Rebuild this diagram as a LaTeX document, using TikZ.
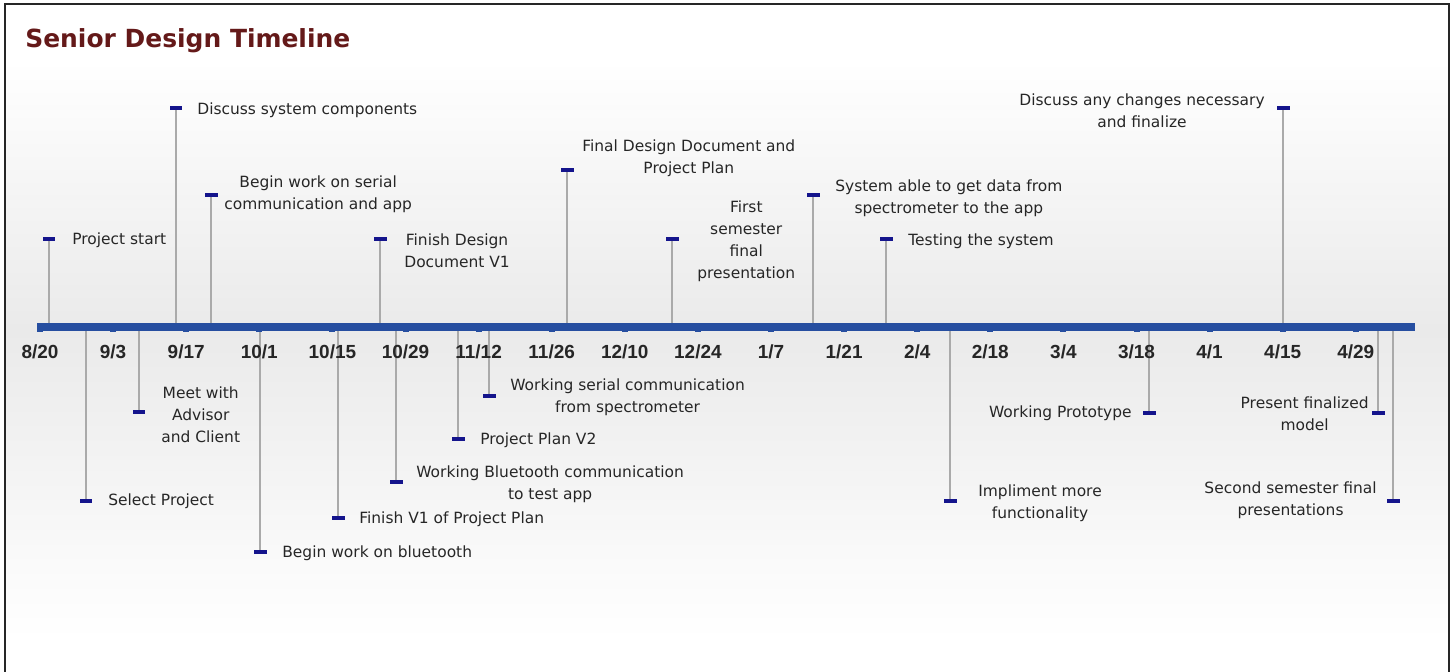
\documentclass[tikz,border=0pt]{standalone}
\usepackage{fontspec}
\setmainfont{DejaVu Sans}
\newfontfamily\datefont{Liberation Sans}
\usepackage{tikz}

\definecolor{titlered}{RGB}{100,25,25}
\definecolor{axisblue}{RGB}{38,78,160}
\definecolor{markblue}{RGB}{20,20,140}
\definecolor{stemgray}{RGB}{170,170,170}
\definecolor{bggray}{RGB}{234,234,234}

\tikzset{
  evmark/.style={fill=markblue, inner sep=0pt, minimum width=0.26cm, minimum height=0.075cm},
  stem/.style={draw=stemgray, line width=0.6pt},
  evtext/.style={font=\fontsize{8.8}{12.5}\selectfont, inner sep=0pt, align=center, text=black!85},
  datelbl/.style={font=\datefont\bfseries\fontsize{10.8}{13}\selectfont, text=black!85},
}

\begin{document}
\begin{tikzpicture}[x=0.02cm, y=-0.02cm]
      \useasboundingbox (0,0) rectangle (1455,672);
      \shade[top color=white, bottom color=bggray] (5,60) rectangle (1449,330);
      \shade[top color=bggray, bottom color=white] (5,330) rectangle (1449,640);
      \draw[gray!30!black, line width=1.2pt] (5,672) -- (5,4) -- (1449,4) -- (1449,672);
      \node[anchor=base west, font=\bfseries\fontsize{14.2}{16}\selectfont, text=titlered, inner sep=0pt] (title) at (25,48) {Senior Design Timeline};

      \coordinate (axl) at (37,327);
      \coordinate (axr) at (1415,327);

      % above the axis
      \node[evmark] (start) at (49,239) {};
      \draw[stem] (start) -- (start |- axl);
      \node[evtext, anchor=west] (startt) at (72,240) {Project start};

      \node[evmark] (discuss) at (176,108) {};
      \draw[stem] (discuss) -- (discuss |- axl);
      \node[evtext, anchor=west] (discusst) at (197,110) {Discuss system components};

      \node[evmark] (serial) at (211,195) {};
      \draw[stem] (serial) -- (serial |- axl);
      \node[evtext, anchor=west] (serialt) at (224,194) {Begin work on serial\\communication and app};

      \node[evmark] (fdone) at (380,239) {};
      \draw[stem] (fdone) -- (fdone |- axl);
      \node[evtext, anchor=west] (fdonet) at (404,251) {Finish Design\\Document V1};

      \node[evmark] (fdd) at (567,170) {};
      \draw[stem] (fdd) -- (fdd |- axl);
      \node[evtext, anchor=west] (fddt) at (582,158) {Final Design Document and\\Project Plan};

      \node[evmark] (firstsem) at (672,239) {};
      \draw[stem] (firstsem) -- (firstsem |- axl);
      \node[evtext, anchor=west] (firstsemt) at (697,241) {First\\semester\\final\\presentation};

      \node[evmark] (sysdata) at (813,195) {};
      \draw[stem] (sysdata) -- (sysdata |- axl);
      \node[evtext, anchor=west] (sysdatat) at (835,198) {System able to get data from\\spectrometer to the app};

      \node[evmark] (testing) at (886,239) {};
      \draw[stem] (testing) -- (testing |- axl);
      \node[evtext, anchor=west] (testingt) at (908,241) {Testing the system};

      \node[evmark] (changes) at (1283,108) {};
      \draw[stem] (changes) -- (changes |- axl);
      \node[evtext, anchor=east] (changest) at (1265,111) {Discuss any changes necessary\\and finalize};

      % below the axis
      \node[evmark] (select) at (86,501) {};
      \draw[stem] (select) -- (select |- axl);
      \node[evtext, anchor=west] (selectt) at (108,501) {Select Project};

      \node[evmark] (meet) at (139,412) {};
      \draw[stem] (meet) -- (meet |- axl);
      \node[evtext, anchor=west] (meett) at (161,415) {Meet with\\Advisor\\and Client};

      \node[evmark] (bluetooth) at (260,552) {};
      \draw[stem] (bluetooth) -- (bluetooth |- axl);
      \node[evtext, anchor=west] (bluetootht) at (282,553) {Begin work on bluetooth};

      \node[evmark] (ppone) at (338,518) {};
      \draw[stem] (ppone) -- (ppone |- axl);
      \node[evtext, anchor=west] (ppont) at (359,519) {Finish V1 of Project Plan};

      \node[evmark] (wbt) at (396,482) {};
      \draw[stem] (wbt) -- (wbt |- axl);
      \node[evtext, anchor=west] (wbtt) at (416,484) {Working Bluetooth communication\\to test app};

      \node[evmark] (pptwo) at (458,439) {};
      \draw[stem] (pptwo) -- (pptwo |- axl);
      \node[evtext, anchor=west] (pptwot) at (480,440) {Project Plan V2};

      \node[evmark] (wser) at (489,396) {};
      \draw[stem] (wser) -- (wser |- axl);
      \node[evtext, anchor=west] (wsert) at (510,397) {Working serial communication\\from spectrometer};

      \node[evmark] (impl) at (950,501) {};
      \draw[stem] (impl) -- (impl |- axl);
      \node[evtext, anchor=west] (implt) at (978,503) {Impliment more\\functionality};

      \node[evmark] (proto) at (1149,413) {};
      \draw[stem] (proto) -- (proto |- axl);
      \node[evtext, anchor=east] (protot) at (1132,413) {Working Prototype};

      \node[evmark] (present) at (1378,413) {};
      \draw[stem] (present) -- (present |- axl);
      \node[evtext, anchor=east] (presentt) at (1369,414) {Present finalized\\model};

      \node[evmark] (second) at (1393,501) {};
      \draw[stem] (second) -- (second |- axl);
      \node[evtext, anchor=east] (secondt) at (1377,500) {Second semester final\\presentations};

      % axis and dates
      \draw[axisblue, line width=4.2pt] (axl) -- (axr);
      \foreach \d [count=\i from 0] in {8/20,9/3,9/17,10/1,10/15,10/29,11/12,11/26,12/10,12/24,1/7,1/21,2/4,2/18,3/4,3/18,4/1,4/15,4/29}{
        \fill[axisblue] ({40+73.1*\i-3},329) rectangle +(6,3);
        \node[datelbl] (d\i) at ({40+73.1*\i},352) {\d};
      }
    \end{tikzpicture}
\end{document}
